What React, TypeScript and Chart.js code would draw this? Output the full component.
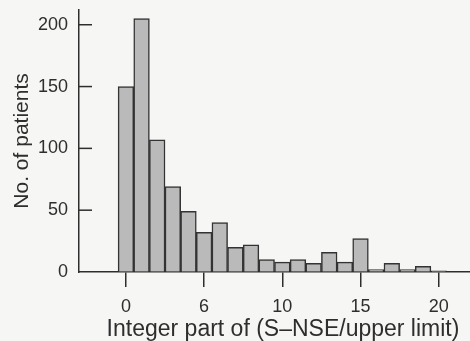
import React, { useEffect, useRef } from "react";
import { Chart, registerables } from "chart.js";

Chart.register(...registerables);

const bins = [0, 1, 2, 3, 4, 5, 6, 7, 8, 9, 10, 11, 12, 13, 14, 15, 16, 17, 18, 19, 20];
const patients = [150, 205, 107, 69, 49, 32, 40, 20, 22, 10, 8, 10, 7, 16, 8, 27, 2, 7, 2, 4.5, 1];
const xTickValues = [0, 5, 10, 15, 20];
const xTickLabels = ["0", "6", "10", "15", "20"];
const yTickValues = [0, 50, 100, 150, 200];
const xTitle = "Integer part of (S\u2013NSE/upper limit)";
const yTitle = "No. of patients";

const FONT = "'Liberation Sans', Arial, Helvetica, sans-serif";
const INK = "#2e2e2e";
const BG = "#f6f6f4";

export default function App() {
  const ref = useRef<HTMLCanvasElement | null>(null);

  useEffect(() => {
    if (!ref.current) return;
    const decor = {
      id: "decor",
      beforeDraw(chart: any) {
        const ctx = chart.ctx;
        ctx.save();
        ctx.fillStyle = BG;
        ctx.fillRect(0, 0, chart.width, chart.height);
        ctx.restore();
      },
      afterDraw(chart: any) {
        const ctx = chart.ctx;
        const y = chart.scales.y;
        const area = chart.chartArea;
        ctx.save();
        ctx.strokeStyle = INK;
        ctx.lineWidth = 1.5;
        for (const v of yTickValues) {
          if (v === 0) continue;
          const py = y.getPixelForValue(v);
          ctx.beginPath();
          ctx.moveTo(area.left, py);
          ctx.lineTo(area.left + 13, py);
          ctx.stroke();
        }
        ctx.fillStyle = INK;
        ctx.font = `23px ${FONT}`;
        ctx.textAlign = "center";
        ctx.textBaseline = "middle";
        ctx.fillText(xTitle, 283, 330);
        ctx.restore();
      },
    };

    const chart = new Chart(ref.current, {
      type: "bar",
      data: {
        datasets: [
          {
            data: bins.map((b, i) => ({ x: b, y: patients[i] })),
            backgroundColor: "#bababa",
            borderColor: "#333333",
            borderWidth: 1.5,
            barPercentage: 1,
            categoryPercentage: 1,
          },
        ],
      },
      options: {
        animation: false,
        responsive: false,
        maintainAspectRatio: false,
        layout: { padding: { top: 0, right: 0, bottom: 0, left: 0 } },
        plugins: { legend: { display: false }, tooltip: { enabled: false } },
        scales: {
          x: {
            type: "linear",
            min: -3,
            max: 22,
            offset: false,
            afterBuildTicks: (s: any) => {
              s.ticks = xTickValues.map((v) => ({ value: v }));
            },
            afterFit: (s: any) => {
              s.height = 69;
            },
            grid: {
              offset: false,
              drawOnChartArea: false,
              drawTicks: true,
              tickLength: 15,
              color: INK,
              lineWidth: 1.5,
            },
            border: { display: true, color: INK, width: 1.5 },
            ticks: {
              autoSkip: false,
              maxRotation: 0,
              padding: 9,
              color: INK,
              font: { family: FONT, size: 18 },
              callback: (_v: any, i: number) => xTickLabels[i],
            },
          },
          y: {
            min: 0,
            max: 212,
            afterBuildTicks: (s: any) => {
              s.ticks = yTickValues.map((v) => ({ value: v }));
            },
            afterFit: (s: any) => {
              s.width = 79;
            },
            grid: {
              drawOnChartArea: false,
              drawTicks: true,
              tickLength: 11,
              color: "rgba(0,0,0,0)",
            },
            border: { display: true, color: INK, width: 1.5 },
            ticks: {
              padding: 0,
              color: INK,
              font: { family: FONT, size: 18, lineHeight: 1.1 },
            },
            title: {
              display: true,
              text: yTitle,
              color: INK,
              font: { family: FONT, size: 21 },
              padding: { top: 10, bottom: 0 },
            },
          },
        },
      },
      plugins: [decor],
    });
    return () => chart.destroy();
  }, []);

  return (
    <div style={{ position: "fixed", left: 0, top: 0, width: 470, height: 341, background: BG }}>
      <canvas ref={ref} width={470} height={341} style={{ width: 470, height: 341, display: "block" }} />
    </div>
  );
}
